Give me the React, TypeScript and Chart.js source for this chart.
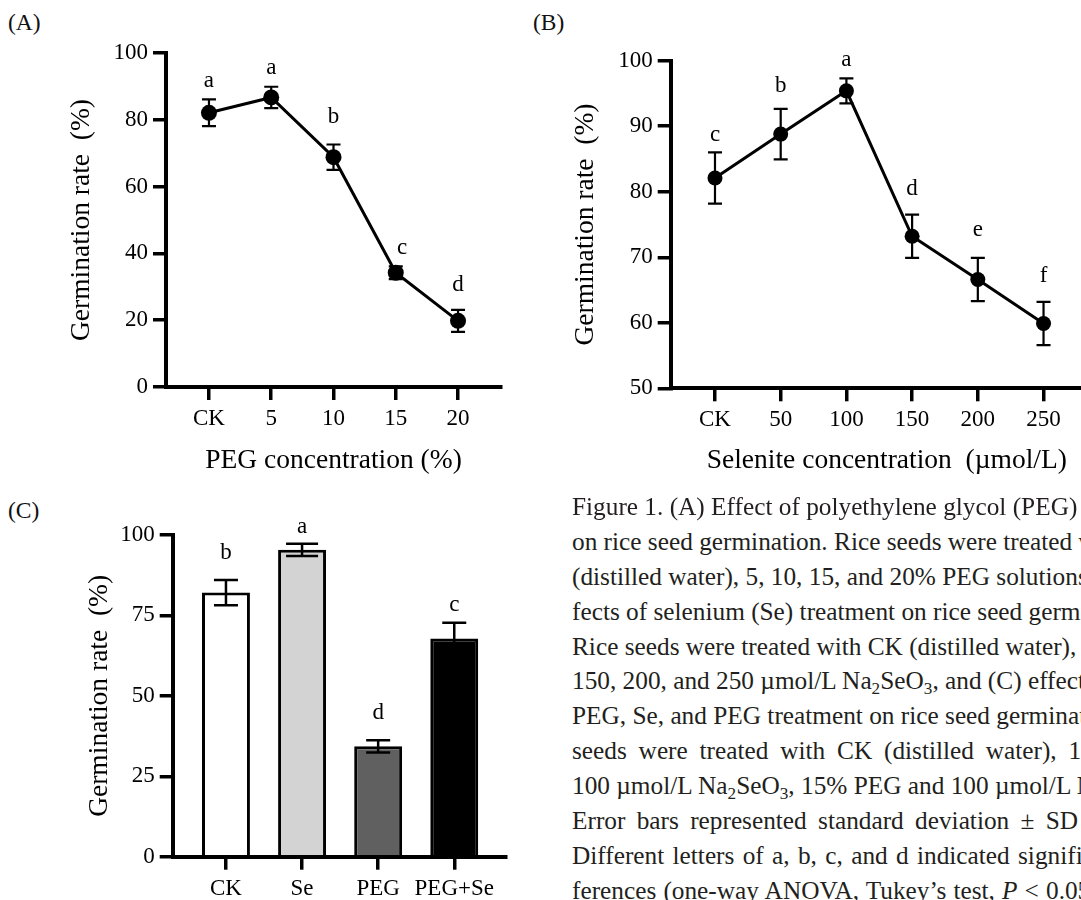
import React, { useEffect, useRef } from "react";
import { Chart, registerables } from "chart.js";

Chart.register(...registerables);

const FAMILY = "Liberation Serif";
const FONT = "'Liberation Serif', 'Times New Roman', serif";

Chart.defaults.font.family = FONT;
Chart.defaults.color = "#000";

// ---------- Panel A : PEG ----------
const catsA = ["CK", "5", "10", "15", "20"];
const valsA = [82.1, 86.7, 68.8, 34.2, 19.8];
const errA = [4.0, 3.2, 3.8, 1.9, 3.3];
const lettersA = ["a", "a", "b", "c", "d"];
const letterXA = [0, 1, 2, 3.1, 4];
const letterYA = [91.5, 95.5, 81.0, 41.5, 30.5];

// ---------- Panel B : Selenite ----------
const catsB = ["CK", "50", "100", "150", "200", "250"];
const valsB = [82.1, 88.8, 95.4, 73.2, 66.6, 59.9];
const errB = [3.9, 3.85, 1.9, 3.3, 3.3, 3.3];
const lettersB = ["c", "b", "a", "d", "e", "f"];
const letterXB = [0, 1, 2, 3, 4, 5];
const letterYB = [88.6, 96.2, 100.1, 80.5, 74.1, 67.2];

// ---------- Panel C : combined ----------
const catsC = ["CK", "Se", "PEG", "PEG+Se"];
const valsC = [82.1, 95.4, 34.3, 67.8];
const errC = [3.9, 1.9, 1.9, 4.9];
const lettersC = ["b", "a", "d", "c"];
const letterXC = [0, 1, 2, 3];
const letterYC = [94.3, 102.6, 44.7, 78.3];
const fillsC = ["#ffffff", "#d3d3d3", "#606060", "#000000"];

function annotPlugin(
  errs: number[],
  letters: string[],
  lx: number[],
  ly: number[],
  caps: number[],
  errWidth: number
) {
  return {
    id: "annot",
    afterDatasetsDraw(chart: any) {
      const ctx = chart.ctx;
      const xs = chart.scales.x;
      const ys = chart.scales.y;
      const data = chart.data.datasets[0].data as { x: number; y: number }[];
      ctx.save();
      ctx.strokeStyle = "#000";
      ctx.lineWidth = errWidth;
      data.forEach((p, i) => {
        const cap = caps[i];
        const px = xs.getPixelForValue(p.x);
        const t = ys.getPixelForValue(p.y + errs[i]);
        const b = ys.getPixelForValue(p.y - errs[i]);
        ctx.beginPath();
        ctx.moveTo(px, t);
        ctx.lineTo(px, b);
        ctx.moveTo(px - cap, t);
        ctx.lineTo(px + cap, t);
        ctx.moveTo(px - cap, b);
        ctx.lineTo(px + cap, b);
        ctx.stroke();
      });
      ctx.fillStyle = "#000";
      ctx.font = `23px ${FONT}`;
      ctx.textAlign = "center";
      ctx.textBaseline = "middle";
      letters.forEach((l, i) => {
        ctx.fillText(l, xs.getPixelForValue(lx[i]), ys.getPixelForValue(ly[i]));
      });
      ctx.restore();
    },
  };
}

const axisGrid = {
  drawOnChartArea: false,
  drawTicks: true,
  tickLength: 13,
  color: "#000",
  lineWidth: 3.5,
  offset: false,
};
const axisBorder = { display: true, color: "#000", width: 4 };

const tickFont = { family: FONT, size: 23, style: "normal", weight: "normal", lineHeight: 1.2 };
const titleFont = { family: FONT, size: 27.5, style: "normal", weight: "normal", lineHeight: 1.2 };

function xScale(cats: string[], min: number, max: number, height: number, title?: string) {
  return {
    type: "linear",
    min,
    max,
    offset: false,
    afterBuildTicks: (s: any) => {
      s.ticks = cats.map((_, i) => ({ value: i }));
    },
    afterFit: (s: any) => {
      s.height = height;
    },
    ticks: {
      callback: (v: any) => cats[Math.round(Number(v))] ?? "",
      font: tickFont,
      color: "#000",
      padding: 5,
      autoSkip: false,
      maxRotation: 0,
      minRotation: 0,
    },
    grid: axisGrid,
    border: axisBorder,
    title: title
      ? { display: true, text: title, font: titleFont, color: "#000", padding: { top: 4, bottom: 4 } }
      : { display: false },
  };
}

function yScale(min: number, max: number, step: number, width: number) {
  return {
    type: "linear",
    min,
    max,
    afterFit: (s: any) => {
      s.width = width;
    },
    ticks: {
      stepSize: step,
      font: tickFont,
      color: "#000",
      padding: 5,
    },
    grid: axisGrid,
    border: axisBorder,
    title: {
      display: true,
      text: "Germination rate  (%)",
      font: titleFont,
      color: "#000",
      padding: { top: 4, bottom: 4 },
    },
  };
}

function baseOptions(padding: any, scales: any) {
  return {
    responsive: false,
    animation: false,
    events: [],
    font: { family: FONT },
    layout: { padding },
    plugins: { legend: { display: false }, tooltip: { enabled: false }, title: { display: false } },
    scales,
  };
}

function configA(): any {
  return {
    type: "line",
    data: {
      datasets: [
        {
          data: catsA.map((_, i) => ({ x: i, y: valsA[i] })),
          borderColor: "#000",
          borderWidth: 3,
          pointRadius: 8,
          pointBackgroundColor: "#000",
          pointBorderWidth: 0,
          tension: 0,
          clip: false,
        },
      ],
    },
    options: baseOptions(
      { left: 61, top: 53, right: 39, bottom: 0 },
      { x: xScale(catsA, -0.69, 4.69, 94, "PEG concentration (%)"), y: yScale(0, 100, 20, 105) }
    ),
    plugins: [annotPlugin(errA, lettersA, letterXA, letterYA, [7, 7, 7, 7, 7], 2.2)],
  };
}

function configB(): any {
  return {
    type: "line",
    data: {
      datasets: [
        {
          data: catsB.map((_, i) => ({ x: i, y: valsB[i] })),
          borderColor: "#000",
          borderWidth: 3,
          pointRadius: 7.5,
          pointBackgroundColor: "#000",
          pointBorderWidth: 0,
          tension: 0,
          clip: false,
        },
      ],
    },
    options: baseOptions(
      { left: 35.5, top: 60.7, right: 27, bottom: 0 },
      { x: xScale(catsB, -0.674, 5.905, 92.7, "Selenite concentration  (\u00b5mol/L)"), y: yScale(50, 100, 10, 105.2) }
    ),
    plugins: [annotPlugin(errB, lettersB, letterXB, letterYB, [7, 7, 7, 7, 7, 7], 2.2)],
  };
}

function configC(): any {
  return {
    type: "bar",
    data: {
      datasets: [
        {
          data: catsC.map((_, i) => ({ x: i, y: valsC[i] })),
          backgroundColor: fillsC,
          borderColor: "#000",
          borderWidth: 3,
          barPercentage: 0.63,
          categoryPercentage: 1,
        },
      ],
    },
    options: baseOptions(
      { left: 79.5, top: 85, right: 34, bottom: 0 },
      { x: xScale(catsC, -0.7, 3.68, 63.3), y: yScale(0, 100, 25, 93.2) }
    ),
    plugins: [annotPlugin(errC, lettersC, letterXC, letterYC, [12, 16, 12, 12], 2.5)],
  };
}

function ChartCanvas(props: { make: () => any; left: number; top: number; width: number; height: number }) {
  const ref = useRef<HTMLCanvasElement>(null);
  useEffect(() => {
    let chart: Chart | null = null;
    let cancelled = false;
    const build = () => {
      if (cancelled || chart || !ref.current) return;
      chart = new Chart(ref.current, props.make());
    };
    const fonts: any = (document as any).fonts;
    if (fonts && fonts.load) {
      Promise.all([
        fonts.load(`23px "${FAMILY}"`, "0123456789CKPEGSeabcdef"),
        fonts.load(`27.5px "${FAMILY}"`, "Germination rate (%)"),
      ]).then(build, build);
    } else {
      build();
    }
    return () => {
      cancelled = true;
      if (chart) chart.destroy();
    };
  }, []);
  return (
    <canvas
      ref={ref}
      width={props.width}
      height={props.height}
      style={{ position: "absolute", left: props.left, top: props.top, width: props.width, height: props.height }}
    />
  );
}

const subStyle: React.CSSProperties = { fontSize: "0.68em", verticalAlign: "-0.3em", lineHeight: 0 };
const Na2SeO3 = (
  <>
    Na<sub style={subStyle}>2</sub>SeO<sub style={subStyle}>3</sub>
  </>
);

const captionLines: { content: React.ReactNode; ws: number }[] = [
  { content: "Figure 1. (A) Effect of polyethylene glycol (PEG) treatment", ws: 0 },
  { content: "on rice seed germination. Rice seeds were treated with CK", ws: 0 },
  { content: "(distilled water), 5, 10, 15, and 20% PEG solutions, (B) ef-", ws: 0 },
  { content: "fects of selenium (Se) treatment on rice seed germination.", ws: 0 },
  { content: "Rice seeds were treated with CK (distilled water), 50, 100,", ws: 0 },
  { content: <>150, 200, and 250 µmol/L {Na2SeO3}, and (C) effects of</>, ws: 0 },
  { content: "PEG, Se, and PEG treatment on rice seed germination. Rice", ws: 0 },
  { content: "seeds were treated with CK (distilled water), 15% PEG,", ws: 5.5 },
  { content: <>100 µmol/L {Na2SeO3}, 15% PEG and 100 µmol/L {Na2SeO3}.</>, ws: 0 },
  { content: "Error bars represented standard deviation ± SD (n = 3).", ws: 5 },
  { content: "Different letters of a, b, c, and d indicated significant dif-", ws: 2 },
  { content: <>ferences (one-way ANOVA, Tukey’s test, <i>P</i> &lt; 0.05).</>, ws: 0.8 },
];

const panelLabel: React.CSSProperties = {
  position: "absolute",
  fontFamily: FONT,
  fontSize: 23.5,
  lineHeight: "26px",
  color: "#111",
  whiteSpace: "nowrap",
};

export default function App() {
  return (
    <div
      style={{
        position: "fixed",
        left: 0,
        top: 0,
        width: 1081,
        height: 900,
        overflow: "hidden",
        background: "#fff",
      }}
    >
      <div style={{ ...panelLabel, left: 8, top: 9 }}>(A)</div>
      <div style={{ ...panelLabel, left: 533, top: 9 }}>(B)</div>
      <div style={{ ...panelLabel, left: 8, top: 497 }}>(C)</div>

      <ChartCanvas make={configA} left={0} top={0} width={540} height={481} />
      <ChartCanvas make={configB} left={530} top={0} width={600} height={481} />
      <ChartCanvas make={configC} left={0} top={450} width={540} height={470} />

      {captionLines.map((l, i) => (
        <div
          key={i}
          style={{
            position: "absolute",
            left: 572,
            top: 506.7 + 34.85 * i - 17.5,
            height: 35,
            lineHeight: "35px",
            fontFamily: FONT,
            fontSize: 25.3,
            color: "#231f20",
            whiteSpace: "nowrap",
            wordSpacing: l.ws,
          }}
        >
          {l.content}
        </div>
      ))}
    </div>
  );
}
